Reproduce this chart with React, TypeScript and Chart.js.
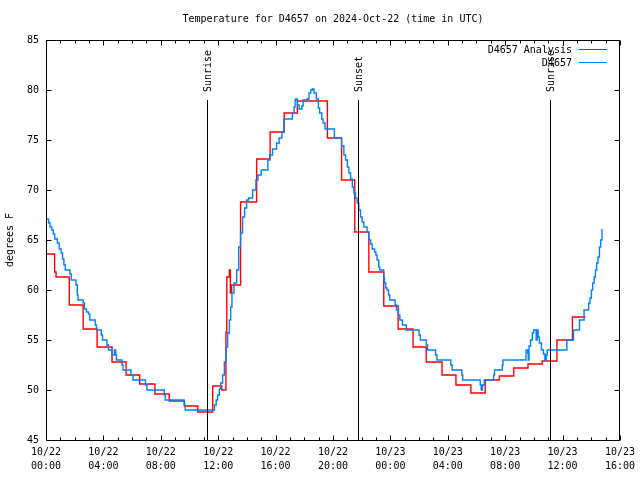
import React, { useEffect, useRef } from 'react';
import { Chart, registerables } from 'chart.js';

Chart.register(...registerables);

const FONT = "'DejaVu Sans Mono', 'Liberation Mono', monospace";

const titleText = 'Temperature for D4657 on 2024-Oct-22 (time in UTC)';
const yAxisTitle = 'degrees F';
const analysisLabel = 'D4657 Analysis';
const obsLabel = 'D4657';

// hours since 2024-10-22 00:00 UTC
const xMin = 0;
const xMax = 40;
const xLabelStep = 4;
const yMin = 45;
const yMax = 85;
const yStep = 5;
const monthLabel = '10';
const firstDay = 22;

const sunLabels = ['Sunrise', 'Sunset', 'Sunrise'];
const sunHours = [11.2, 21.76, 35.14];

// Analysis (red), value holds from each time until the next
const redTimes = [0, 0.6, 0.7, 1.62, 2.59, 3.56, 4.6, 5.58, 6.53, 7.59, 8.59, 9.65, 10.58, 11.62, 12.25, 12.54, 12.6, 12.78, 12.85, 12.94, 13.56, 14.68, 15.62, 16.6, 17.52, 19.61, 20.6, 21.52, 22.5, 23.54, 24.54, 25.58, 26.5, 27.6, 28.57, 29.61, 30.61, 31.6, 32.6, 33.59, 34.58, 35.61, 36.69, 37.61];
const redTemps = [63.6, 61.8, 61.3, 58.5, 56.1, 54.3, 52.8, 51.5, 50.6, 49.6, 48.9, 48.4, 47.8, 50.4, 50.0, 55.8, 61.3, 62.0, 59.7, 60.5, 68.8, 73.1, 75.8, 77.7, 78.9, 75.2, 71.0, 65.8, 61.8, 58.4, 56.1, 54.3, 52.8, 51.5, 50.5, 49.7, 51.0, 51.4, 52.2, 52.6, 52.9, 55.0, 57.3, 57.3];

// Observations (blue)
const blueTimes = [0, 0.18, 0.28, 0.4, 0.51, 0.61, 0.79, 0.92, 1.06, 1.15, 1.25, 1.34, 1.67, 1.76, 2.09, 2.18, 2.23, 2.59, 2.68, 2.82, 2.96, 3.05, 3.43, 3.52, 3.85, 3.94, 4.25, 4.35, 4.6, 4.77, 4.86, 4.91, 5.3, 5.37, 5.92, 6.06, 6.93, 7.04, 8.24, 8.31, 9.63, 9.7, 11.74, 11.86, 11.96, 12.08, 12.17, 12.31, 12.43, 12.55, 12.66, 12.78, 12.87, 12.96, 13.1, 13.29, 13.43, 13.56, 13.7, 13.84, 13.98, 14.12, 14.4, 14.63, 14.77, 15.0, 15.46, 15.6, 15.79, 16.07, 16.25, 16.44, 16.58, 17.17, 17.29, 17.36, 17.41, 17.52, 17.64, 17.83, 17.92, 18.22, 18.33, 18.45, 18.56, 18.68, 18.84, 18.98, 19.07, 19.22, 19.31, 19.45, 20.1, 20.6, 20.76, 20.88, 21.0, 21.11, 21.23, 21.35, 21.46, 21.57, 21.68, 21.8, 21.92, 22.03, 22.15, 22.38, 22.5, 22.62, 22.73, 22.9, 22.99, 23.07, 23.19, 23.26, 23.54, 23.59, 23.68, 23.77, 23.87, 23.96, 24.33, 24.43, 24.56, 24.66, 24.84, 25.11, 26.0, 26.09, 26.5, 26.59, 27.15, 27.25, 28.21, 28.31, 28.98, 29.04, 30.26, 30.33, 30.42, 30.54, 31.2, 31.26, 31.8, 31.85, 33.45, 33.57, 33.61, 33.66, 33.77, 33.89, 33.99, 34.16, 34.23, 34.3, 34.39, 34.53, 34.67, 34.77, 34.86, 34.93, 36.3, 36.76, 37.18, 37.5, 37.82, 37.91, 38.01, 38.1, 38.2, 38.29, 38.38, 38.47, 38.57, 38.66, 38.75];
const blueTemps = [67.1, 66.7, 66.3, 66.0, 65.6, 65.1, 64.7, 64.1, 63.7, 63.1, 62.5, 62.0, 61.6, 61.0, 60.5, 59.5, 59.0, 58.7, 58.1, 57.8, 57.6, 57.0, 56.5, 56.0, 55.5, 55.0, 54.5, 54.0, 53.5, 54.0, 53.5, 53.0, 52.5, 52.0, 51.5, 51.0, 50.5, 50.0, 49.5, 49.0, 48.5, 48.0, 48.5, 49.0, 49.5, 50.1, 50.7, 51.5, 52.8, 54.3, 55.7, 57.0, 58.3, 59.7, 60.7, 62.0, 64.3, 65.7, 67.3, 68.2, 69.0, 69.2, 70.0, 71.0, 71.5, 72.0, 73.0, 73.5, 74.1, 74.7, 75.2, 75.8, 77.1, 77.7, 78.3, 79.0, 79.1, 78.5, 78.1, 78.4, 79.0, 79.1, 79.7, 80.0, 80.1, 79.7, 79.1, 78.2, 77.7, 77.1, 76.7, 76.1, 75.2, 74.4, 73.5, 73.0, 72.3, 71.7, 71.1, 70.3, 69.7, 69.2, 68.7, 68.0, 67.3, 66.8, 66.3, 65.8, 65.0, 64.6, 64.1, 63.8, 63.5, 63.0, 62.3, 62.0, 61.2, 60.7, 60.2, 60.0, 59.5, 59.0, 58.5, 58.0, 57.5, 57.0, 56.5, 56.0, 55.5, 55.0, 54.5, 54.0, 53.5, 53.0, 52.5, 52.0, 51.5, 51.0, 50.5, 50.0, 50.5, 51.0, 51.5, 52.0, 52.5, 53.0, 54.0, 53.7, 53.0, 54.4, 55.0, 55.7, 56.0, 55.0, 56.0, 55.3, 54.7, 54.0, 53.6, 53.0, 53.5, 54.0, 55.0, 56.0, 57.0, 58.0, 58.7, 59.2, 60.0, 60.7, 61.3, 62.0, 62.7, 63.3, 64.3, 65.0, 66.1];

const RED = 'rgb(255,0,0)';
const BLUE = 'rgb(0,128,255)';

function pad2(n: number): string {
  return n < 10 ? '0' + n : String(n);
}

function xTickLabel(v: number): string[] {
  const day = firstDay + Math.floor(v / 24);
  const hour = Math.round(v % 24);
  return [`${monthLabel}/${day}`, `${pad2(hour)}:00`];
}

const framePlugin = {
  id: 'gnuFrame',
  afterDatasetsDraw(chart: any) {
    const { ctx, chartArea: a, scales } = chart;
    const xs = scales.x;
    const ys = scales.y;
    const L = Math.round(a.left) + 0.5;
    const R = Math.round(a.right) - 0.5;
    const T = Math.round(a.top) + 0.5;
    const B = Math.round(a.bottom) + 0.5;
    const H = a.bottom - a.top;
    ctx.save();
    ctx.strokeStyle = '#000';
    ctx.lineWidth = 1;
    ctx.font = `10px ${FONT}`;
    ctx.fillStyle = '#000';

    // sunrise / sunset markers
    sunHours.forEach((h, i) => {
      const px = Math.round(xs.getPixelForValue(h)) + 0.5;
      ctx.beginPath();
      ctx.moveTo(px, B);
      ctx.lineTo(px, a.top + 0.15 * H);
      ctx.stroke();
      ctx.save();
      ctx.translate(px + 1, a.top + 0.13 * H);
      ctx.rotate(-Math.PI / 2);
      ctx.textAlign = 'left';
      ctx.textBaseline = 'middle';
      ctx.fillText(sunLabels[i], 0, 0);
      ctx.restore();
    });

    // frame
    ctx.beginPath();
    ctx.rect(L, T, R - L, B - T);
    ctx.stroke();

    // y ticks (inward, both sides)
    for (let v = yMin; v <= yMax; v += yStep) {
      const py = Math.round(ys.getPixelForValue(v)) + 0.5;
      ctx.beginPath();
      ctx.moveTo(L, py);
      ctx.lineTo(L + 5, py);
      ctx.moveTo(R, py);
      ctx.lineTo(R - 5, py);
      ctx.stroke();
    }
    // x ticks (hourly minor, 4-hourly major)
    for (let h = xMin; h <= xMax; h += 1) {
      const px = Math.round(xs.getPixelForValue(h)) + 0.5;
      const len = h % xLabelStep === 0 ? 5 : 3;
      ctx.beginPath();
      ctx.moveTo(px, B);
      ctx.lineTo(px, B - len);
      ctx.moveTo(px, T);
      ctx.lineTo(px, T + len);
      ctx.stroke();
    }

    // legend (top right, inside)
    const ds = chart.data.datasets;
    const rows = [ds[0], ds[1]];
    rows.forEach((d: any, i: number) => {
      const yy = a.top + 10 + i * 13;
      ctx.textAlign = 'right';
      ctx.textBaseline = 'middle';
      ctx.fillStyle = '#000';
      ctx.fillText(d.label, a.right - 48, yy + 0.5);
      ctx.strokeStyle = d.borderColor;
      ctx.lineWidth = 1;
      ctx.beginPath();
      ctx.moveTo(a.right - 41, Math.round(yy) - 0.5);
      ctx.lineTo(a.right - 13, Math.round(yy) - 0.5);
      ctx.stroke();
    });
    ctx.restore();
  },
};

export default function App() {
  const ref = useRef<HTMLCanvasElement | null>(null);
  useEffect(() => {
    if (!ref.current) return;
    const chart = new Chart(ref.current, {
      type: 'line',
      data: {
        datasets: [
          {
            label: analysisLabel,
            data: redTimes.map((t, i) => ({ x: t, y: redTemps[i] })),
            borderColor: RED,
            backgroundColor: RED,
            borderWidth: 1.4,
            pointRadius: 0,
            stepped: 'before',
            fill: false,
            order: 1,
          },
          {
            label: obsLabel,
            data: blueTimes.map((t, i) => ({ x: t, y: blueTemps[i] })),
            borderColor: BLUE,
            backgroundColor: BLUE,
            borderWidth: 1.4,
            pointRadius: 0,
            stepped: 'before',
            fill: false,
            order: 0,
          },
        ],
      },
      options: {
        responsive: false,
        animation: false,
        devicePixelRatio: 1,
        layout: { padding: { left: 0, right: 18, top: 0, bottom: 0 } },
        plugins: {
          legend: { display: false },
          tooltip: { enabled: false },
          title: {
            display: true,
            text: titleText,
            color: '#000',
            fullSize: false,
            font: { family: FONT, size: 10, lineHeight: 1.2, weight: 'normal' },
            padding: { top: 13, bottom: 15 },
          },
        },
        scales: {
          x: {
            type: 'linear',
            min: xMin,
            max: xMax,
            grid: { display: false, drawTicks: false },
            border: { display: false },
            ticks: {
              stepSize: xLabelStep,
              autoSkip: false,
              maxRotation: 0,
              minRotation: 0,
              padding: 5,
              color: '#000',
              font: { family: FONT, size: 10, lineHeight: 1.4 },
              callback: (v: any) => xTickLabel(Number(v)),
            },
            afterFit: (s: any) => {
              s.height = 40;
            },
          },
          y: {
            type: 'linear',
            min: yMin,
            max: yMax,
            grid: { display: false, drawTicks: false },
            border: { display: false },
            ticks: {
              stepSize: yStep,
              padding: 7,
              color: '#000',
              font: { family: FONT, size: 10 },
            },
            title: {
              display: true,
              text: yAxisTitle,
              color: '#000',
              font: { family: FONT, size: 10 },
              padding: { top: 4, bottom: 4 },
            },
            afterFit: (s: any) => {
              s.width = 46;
            },
          },
        },
      },
      plugins: [framePlugin],
    } as any);
    return () => chart.destroy();
  }, []);
  return (
    <div style={{ position: 'absolute', left: 0, top: 0, width: 640, height: 480, background: '#fff' }}>
      <canvas ref={ref} width={640} height={480} style={{ display: 'block' }} />
    </div>
  );
}
